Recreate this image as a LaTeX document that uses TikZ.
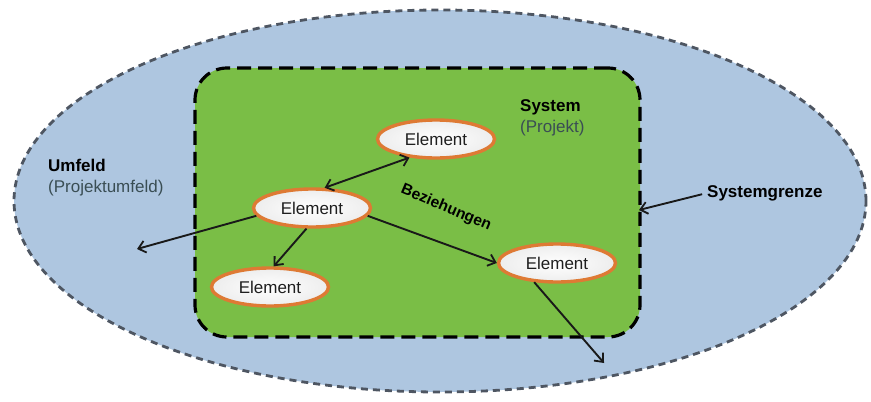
\documentclass[tikz,border=0pt]{standalone}
\usepackage{fontspec}
\setmainfont{Liberation Sans}
\usetikzlibrary{arrows.meta,shapes.geometric}
\definecolor{outerblue}{RGB}{174,198,224}
\definecolor{outerline}{RGB}{78,86,98}
\definecolor{sysgreen}{RGB}{122,190,70}
\definecolor{elemorange}{RGB}{222,122,52}
\definecolor{subtext}{RGB}{58,78,84}
\begin{document}
\begin{tikzpicture}[x=1pt,y=-1pt,
  elem/.style={ellipse, draw=elemorange, line width=3.4pt,
    inner color=white, outer color=black!7,
    minimum width=117pt, minimum height=38pt, inner sep=0pt,
    font=\fontsize{17}{20}\selectfont, text=black!88},
  conn/.style={line width=1.9pt, black!90, -{Straight Barb[length=7pt,width=12pt,line width=1.8pt]}},
  dconn/.style={line width=1.9pt, black!90,
    {Straight Barb[length=7pt,width=12pt,line width=1.8pt]}-{Straight Barb[length=7pt,width=12pt,line width=1.8pt]}},
  lbl/.style={font=\fontsize{17}{21}\selectfont, align=left, inner sep=0pt}
]
\useasboundingbox (0,0) rectangle (871,402);
% environment
\node[ellipse, draw=outerline, fill=outerblue, line width=2.8pt,
  dash pattern=on 7pt off 5pt, minimum width=852pt, minimum height=382pt,
  inner sep=0pt] (env) at (440,201) {};
% system
\node[draw=black, fill=sysgreen, line width=3.2pt, dash pattern=on 14pt off 7pt,
  rounded corners=32pt, minimum width=445pt, minimum height=269pt,
  inner sep=0pt] (sys) at (417.5,202.5) {};
% elements
\node[elem] (e1) at (436,139) {Element};
\node[elem] (e2) at (312,208) {Element};
\node[elem] (e3) at (270,287) {Element};
\node[elem] (e4) at (557,263) {Element};
% labels
\node[lbl, anchor=north west] (sysl) at (520,99)
  {\textbf{System}\\{\color{subtext}(Projekt)}};
\node[lbl, anchor=north west] (umf) at (48,159)
  {\textbf{Umfeld}\\{\color{subtext}(Projektumfeld)}};
\node[lbl, anchor=west] (sg) at (707,193) {\textbf{Systemgrenze}};
\node[font=\fontsize{15.5}{18}\selectfont\bfseries, rotate=-23, inner sep=0pt]
  (bez) at (446,208) {Beziehungen};
% free ends
\coordinate (out1) at (137,249);
\coordinate (out2) at (604,363);
\coordinate (sgtip) at (639,210);
% connectors
\draw[dconn] (e2.58) -- (e1.215);
\draw[conn] (e2.-105) -- (e3.80);
\draw[conn] (e2.-8) -- (e4.180);
\draw[conn] (e2.188) -- (out1);
\draw[conn] (e4.-140) -- (out2);
\draw[conn, shorten <=5pt] (sg.west) -- (sgtip);
\end{tikzpicture}
\end{document}
